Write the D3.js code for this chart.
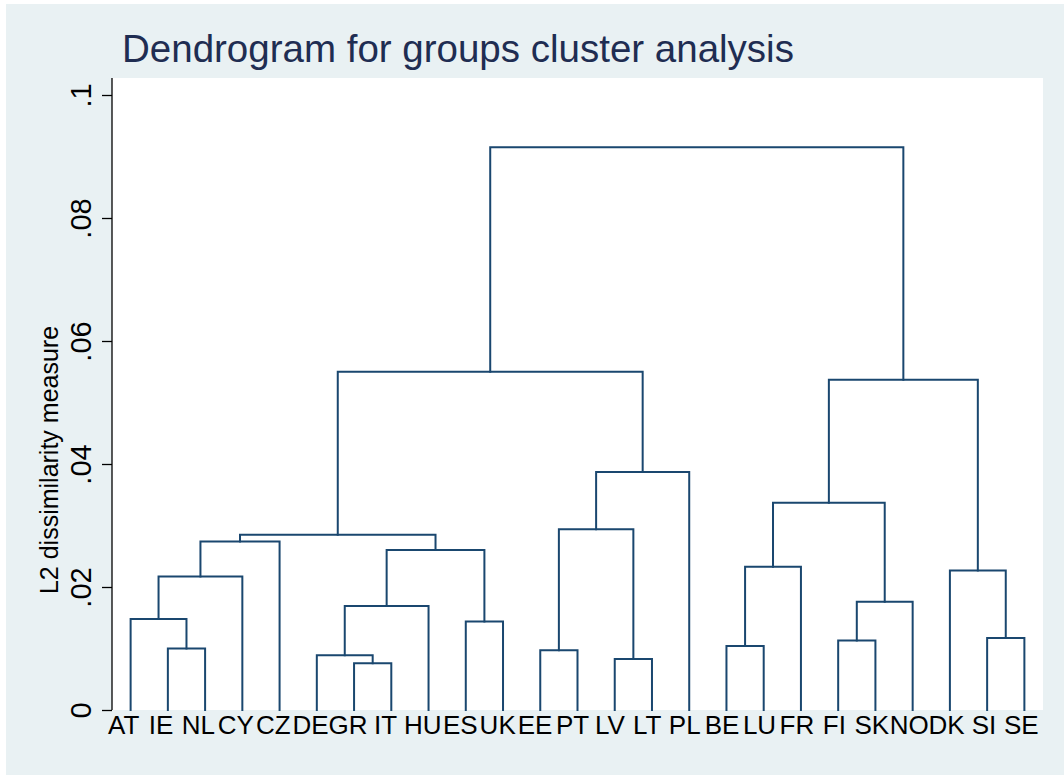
<!DOCTYPE html>
<html>
<head>
<meta charset="utf-8">
<script src="https://cdn.jsdelivr.net/npm/d3@7"></script>
<style>
  body { margin: 0; background: #fff; }
  text { font-family: "Liberation Sans", Arial, sans-serif; }
</style>
</head>
<body>
<div id="chart"></div>
<script>
// leaves in dendrogram order
const leaves = ["AT","IE","NL","CY","CZ","DE","GR","IT","HU","ES","UK","EE","PT",
                "LV","LT","PL","BE","LU","FR","FI","SK","NO","DK","SI","SE"];

// merges: [left, right, height]; merge k is named "n" + k
const linkage = [
  ["IE", "NL", 0.0100],
  ["AT", "n0", 0.0148],
  ["n1", "CY", 0.0217],
  ["n2", "CZ", 0.0274],
  ["GR", "IT", 0.0076],
  ["DE", "n4", 0.0089],
  ["n5", "HU", 0.0169],
  ["ES", "UK", 0.0144],
  ["n6", "n7", 0.0260],
  ["n3", "n8", 0.0285],
  ["EE", "PT", 0.0097],
  ["LV", "LT", 0.0083],
  ["n10", "n11", 0.0294],
  ["n12", "PL", 0.0387],
  ["n9", "n13", 0.0550],
  ["BE", "LU", 0.0104],
  ["n15", "FR", 0.0233],
  ["FI", "SK", 0.0113],
  ["n17", "NO", 0.0176],
  ["n16", "n18", 0.0337],
  ["SI", "SE", 0.0117],
  ["DK", "n20", 0.0227],
  ["n19", "n21", 0.0537],
  ["n14", "n22", 0.0915]
];

const yTicks = [0, 0.02, 0.04, 0.06, 0.08, 0.1];
const yTickLabels = ["0", ".02", ".04", ".06", ".08", ".1"];

const W = 1064, H = 775;
const plot = { left: 112, right: 1043, top: 78, bottom: 710 };

const svg = d3.select("#chart").append("svg")
    .attr("width", W)
    .attr("height", H);

// graph region
svg.append("rect")
    .attr("x", 6).attr("y", 4)
    .attr("width", W - 6).attr("height", H - 4)
    .attr("fill", "#e9f1f3");

// plot region
svg.append("rect")
    .attr("x", plot.left).attr("y", plot.top)
    .attr("width", plot.right - plot.left)
    .attr("height", plot.bottom - plot.top)
    .attr("fill", "#fff");

let x = d3.scalePoint()
    .domain(leaves)
    .range([plot.left, plot.right])
    .padding(0.5);

let y = d3.scaleLinear()
    .domain([0, 0.1])
    .range([plot.bottom, 95]);

// positions of every node
let pos = {};
leaves.forEach(function (d) { pos[d] = { x: x(d), h: 0 }; });
linkage.forEach(function (m, i) {
    let a = pos[m[0]], b = pos[m[1]];
    pos["n" + i] = { x: (a.x + b.x) / 2, h: m[2] };
});

svg.append("g")
    .selectAll("path")
    .data(linkage)
    .join("path")
    .attr("fill", "none")
    .attr("stroke", "#1a476f")
    .attr("stroke-width", 2)
    .attr("stroke-linejoin", "miter")
    .attr("stroke-linecap", "square")
    .attr("d", function (m) {
        let a = pos[m[0]], b = pos[m[1]];
        return "M" + a.x + "," + y(a.h) +
               "V" + y(m[2]) +
               "H" + b.x +
               "V" + y(b.h);
    });

// y axis
let yAxis = d3.axisLeft(y)
    .tickValues(yTicks)
    .tickSize(10)
    .tickFormat(function (d, i) { return yTickLabels[i]; });

let ga = svg.append("g")
    .attr("transform", "translate(" + plot.left + ",0)")
    .call(yAxis);
ga.select(".domain").remove();
ga.selectAll(".tick line").attr("stroke", "#000").attr("stroke-width", 1.3);
ga.selectAll(".tick text")
    .attr("transform", "translate(-21,0) rotate(-90)")
    .attr("x", 0)
    .attr("y", 0)
    .attr("dy", 0)
    .attr("text-anchor", "middle")
    .attr("font-size", 29)
    .attr("fill", "#000");

svg.append("line")
    .attr("x1", plot.left).attr("x2", plot.left)
    .attr("y1", plot.top).attr("y2", plot.bottom)
    .attr("stroke", "#000")
    .attr("stroke-width", 1.3);

// leaf labels
let lx = d3.scalePoint()
    .domain(leaves)
    .range([x(leaves[0]) - 7, x(leaves[leaves.length - 1]) - 3]);

svg.append("g")
    .selectAll("text")
    .data(leaves)
    .join("text")
    .attr("x", function (d) { return lx(d); })
    .attr("y", 734)
    .attr("text-anchor", "middle")
    .attr("font-size", 26)
    .attr("fill", "#000")
    .text(function (d) { return d; });

// axis title
svg.append("text")
    .attr("transform", "translate(58,460) rotate(-90)")
    .attr("text-anchor", "middle")
    .attr("font-size", 25)
    .attr("fill", "#000")
    .text("L2 dissimilarity measure");

// title
svg.append("text")
    .attr("x", 122)
    .attr("y", 62)
    .attr("font-size", 38.5)
    .attr("fill", "#1f2d52")
    .text("Dendrogram for groups cluster analysis");
</script>
</body>
</html>
